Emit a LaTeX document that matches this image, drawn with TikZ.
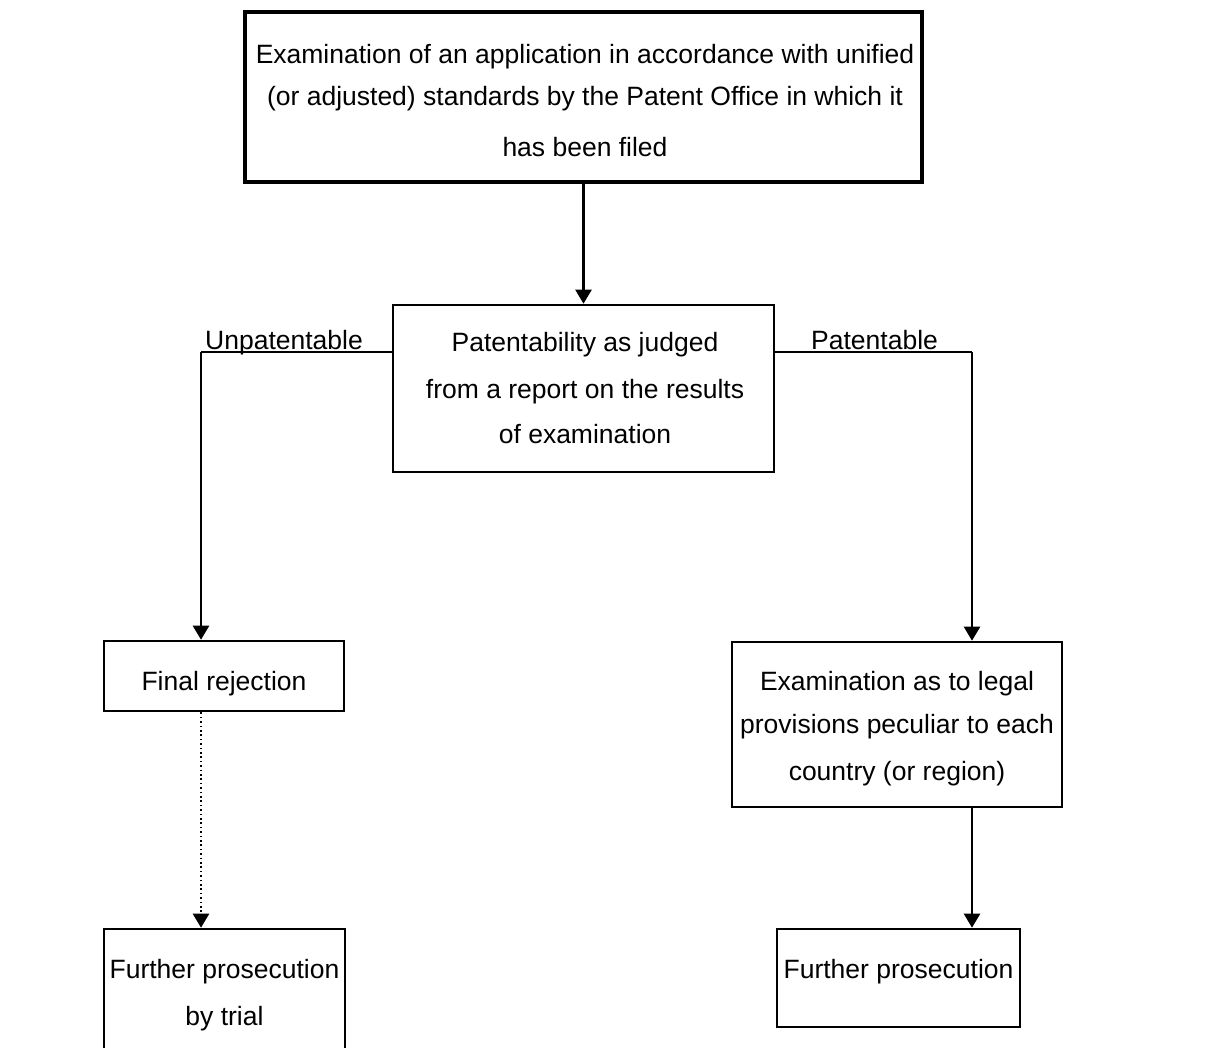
\documentclass[tikz,border=0pt]{standalone}
\usepackage{fontspec}
\setmainfont{Liberation Sans}
\usetikzlibrary{arrows.meta}
\begin{document}
\begin{tikzpicture}[x=1pt,y=-1pt,
  box/.style={draw, line width=2.6pt, inner sep=0pt},
  thickbox/.style={draw, line width=4.5pt, inner sep=0pt},
  txt/.style={inner sep=0pt, anchor=base, font=\fontsize{26.5}{30}\selectfont},
  lbl/.style={inner sep=0pt, anchor=base west, font=\fontsize{26.5}{30}\selectfont},
  conn/.style={line width=2.4pt, -{Triangle[width=16pt,length=14pt]}},
  plain/.style={line width=2.4pt},
  dotline/.style={line width=2.4pt, dash pattern=on 1.6pt off 2.8pt, -{Triangle[width=16pt,length=14pt]}}
]
\clip (0,0) rectangle (1222,1047);
\fill[white] (0,0) rectangle (1222,1047);

% boxes
\node[thickbox, minimum width=677pt, minimum height=170pt] (b1) at (583.5,97) {};
\node[box, minimum width=381pt, minimum height=167pt] (b2) at (583.5,388.5) {};
\node[box, minimum width=240pt, minimum height=70pt] (b3) at (224,676) {};
\node[box, minimum width=330pt, minimum height=165pt] (b4) at (897,724.5) {};
\node[box, minimum width=241pt, minimum height=140pt] (b5) at (224.5,999) {};
\node[box, minimum width=243pt, minimum height=98pt] (b6) at (898.5,978) {};

% texts
\node[txt] (t1a) at (585,63) {Examination of an application in accordance with unified};
\node[txt] (t1b) at (585,105) {(or adjusted) standards by the Patent Office in which it};
\node[txt] (t1c) at (585,156) {has been filed};
\node[txt] (t2a) at (585,351) {Patentability as judged};
\node[txt] (t2b) at (585,398) {from a report on the results};
\node[txt] (t2c) at (585,443) {of examination};
\node[txt] (t3) at (224,690) {Final rejection};
\node[txt] (t4a) at (897,690) {Examination as to legal};
\node[txt] (t4b) at (897,733) {provisions peculiar to each};
\node[txt] (t4c) at (897,780) {country (or region)};
\node[txt] (t5a) at (224.5,978) {Further prosecution};
\node[txt] (t5b) at (224.5,1025) {by trial};
\node[txt] (t6) at (898.5,978) {Further prosecution};

% labels
\node[lbl] (lu) at (205,349) {Unpatentable};
\node[lbl] (lp) at (811,349) {Patentable};

% connector corners
\coordinate (uL) at (201,352);
\coordinate (pR) at (972,352);

\draw[conn] (b1.south) -- (b2.north);
\draw[plain] (b2.west |- uL) -- (uL);
\draw[conn] (uL) -- (uL |- b3.north);
\draw[plain] (b2.east |- pR) -- (pR);
\draw[conn] (pR) -- (pR |- b4.north);
\draw[dotline] (b3.south -| uL) -- (uL |- b5.north);
\draw[conn] (b4.south -| pR) -- (pR |- b6.north);
\end{tikzpicture}
\end{document}
